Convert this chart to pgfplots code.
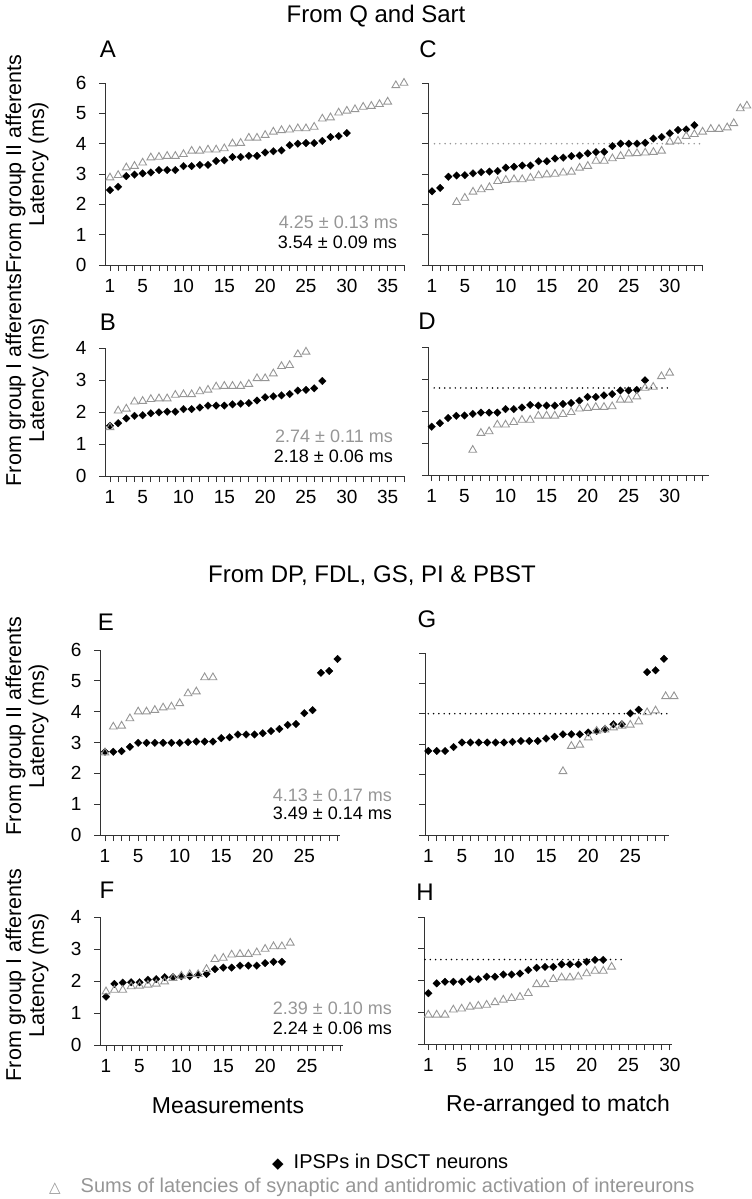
\documentclass[border=0pt]{standalone}
\usepackage{fontspec}
\setmainfont{Liberation Sans}
\newfontfamily\symfont{DejaVu Sans}
\usepackage{pgfplots}
\pgfplotsset{compat=1.18}
\definecolor{trigray}{RGB}{150,150,150}
\pgfplotsset{
  panel/.style={
    scale only axis, anchor=south west, clip=false, enlargelimits=false,
    axis x line=bottom, axis y line=left,
    axis line style={-, line width=1pt, color=black!80},
    every outer x axis line/.append style={-},
    every outer y axis line/.append style={-},
    tick align=outside,
    major tick length=6pt, minor tick length=6pt,
    tick style={line width=0.9pt, black!80},
    ymin=0,
    xtick={1,5,10,15,20,25,30,35},
    minor xtick={1,...,40},
    ytick={0,1,2,3,4,5,6},
    tick label style={font=\fontsize{19}{21}\selectfont},
    xticklabel style={yshift=-5pt},
    yticklabel style={xshift=-9pt},
    /pgf/number format/assume math mode=true,
  },
  right/.style={yticklabels={}},
  dia/.style={only marks, mark=square*, mark size=2.7pt, mark options={rotate=45, fill=black, draw=black, line width=0.2pt}},
  tri/.style={only marks, mark=triangle, mark size=4.5pt, mark options={draw=trigray, line width=0.9pt, fill=none}},
  dotline/.style={no marks, line width=1.7pt, line cap=round, dash pattern=on 0pt off 5.3pt},
}
\newcommand\tk{\fontsize{18}{20}\selectfont}
\newcommand\lb{\fontsize{21.5}{23}\selectfont}
\newcommand\ttl{\fontsize{24}{26}\selectfont}
\begin{document}
\begin{tikzpicture}
% ---------- A ----------
\begin{axis}[panel, at={(105pt,-265pt)}, width=299pt, height=182pt, xmin=0.39, xmax=37, ymax=6]
\addplot[dia] coordinates {(1,2.47)(2,2.58)(3,2.93)(4,2.98)(5,3.02)(6,3.05)(7,3.13)(8,3.13)(9,3.13)(10,3.26)(11,3.26)(12,3.3)(13,3.3)(14,3.43)(15,3.45)(16,3.56)(17,3.56)(18,3.6)(19,3.6)(20,3.71)(21,3.75)(22,3.78)(23,3.95)(24,4.0)(25,4.02)(26,4.02)(27,4.09)(28,4.22)(29,4.25)(30,4.35)};
\addplot[tri] coordinates {(1,2.88)(2,2.96)(3,3.21)(4,3.26)(5,3.37)(6,3.54)(7,3.56)(8,3.59)(9,3.59)(10,3.65)(11,3.76)(12,3.76)(13,3.8)(14,3.8)(15,3.84)(16,4.0)(17,4.02)(18,4.19)(19,4.19)(20,4.28)(21,4.39)(22,4.44)(23,4.46)(24,4.5)(25,4.5)(26,4.55)(27,4.82)(28,4.86)(29,5.02)(30,5.08)(31,5.13)(32,5.21)(33,5.24)(34,5.3)(35,5.38)(36,5.92)(37,6.0)};
\end{axis}
% ---------- B ----------
\begin{axis}[panel, at={(105pt,-476pt)}, width=299pt, height=128pt, xmin=0.39, xmax=37, ymax=4]
\addplot[dia] coordinates {(1,1.57)(2,1.65)(3,1.8)(4,1.88)(5,1.9)(6,1.96)(7,1.99)(8,2.01)(9,2.01)(10,2.09)(11,2.09)(12,2.14)(13,2.2)(14,2.2)(15,2.2)(16,2.24)(17,2.26)(18,2.28)(19,2.36)(20,2.46)(21,2.49)(22,2.52)(23,2.56)(24,2.67)(25,2.69)(26,2.74)(27,2.97)};
\addplot[tri] coordinates {(1,1.52)(2,2.04)(3,2.1)(4,2.32)(5,2.34)(6,2.4)(7,2.42)(8,2.42)(9,2.53)(10,2.55)(11,2.55)(12,2.64)(13,2.69)(14,2.79)(15,2.81)(16,2.81)(17,2.81)(18,2.87)(19,3.05)(20,3.05)(21,3.2)(22,3.43)(23,3.46)(24,3.8)(25,3.88)};
\end{axis}
% ---------- C ----------
\begin{axis}[panel, right, at={(428pt,-265pt)}, width=275pt, height=182pt, xmin=0.51, xmax=34.05, ymax=6]
\addplot[dotline, color=trigray] coordinates {(1.3,4.0)(34,4.0)};
\addplot[dia] coordinates {(1,2.43)(2,2.54)(3,2.91)(4,2.95)(5,2.96)(6,3.02)(7,3.06)(8,3.08)(9,3.1)(10,3.21)(11,3.24)(12,3.28)(13,3.28)(14,3.42)(15,3.42)(16,3.51)(17,3.54)(18,3.59)(19,3.61)(20,3.68)(21,3.72)(22,3.73)(23,3.92)(24,4.0)(25,4.0)(26,4.0)(27,4.03)(28,4.17)(29,4.22)(30,4.34)(31,4.45)(32,4.47)(33,4.61)};
\addplot[tri] coordinates {(4,2.07)(5,2.21)(6,2.41)(7,2.49)(8,2.56)(9,2.76)(10,2.8)(11,2.82)(12,2.82)(13,2.87)(14,2.95)(15,2.98)(16,3.0)(17,3.04)(18,3.07)(19,3.2)(20,3.26)(21,3.43)(22,3.43)(23,3.51)(24,3.59)(25,3.67)(26,3.68)(27,3.7)(28,3.72)(29,3.76)(30,4.06)(31,4.09)(32,4.25)(33,4.31)(34,4.39)(35,4.48)(36,4.48)(37,4.53)(37.8,4.67)(38.6,5.16)(39.4,5.25)};
\end{axis}
% ---------- D ----------
\begin{axis}[panel, right, at={(428pt,-475pt)}, width=281pt, height=128pt, xmin=0.55, xmax=34.8, ymax=4]
\addplot[dotline, black] coordinates {(1.3,2.72)(30,2.72)};
\addplot[dia] coordinates {(1,1.51)(2,1.62)(3,1.78)(4,1.85)(5,1.86)(6,1.91)(7,1.95)(8,1.95)(9,1.95)(10,2.06)(11,2.06)(12,2.11)(13,2.19)(14,2.17)(15,2.17)(16,2.17)(17,2.22)(18,2.25)(19,2.32)(20,2.44)(21,2.44)(22,2.49)(23,2.53)(24,2.64)(25,2.64)(26,2.66)(27,2.96)};
\addplot[tri] coordinates {(6,0.78)(7,1.31)(8,1.36)(9,1.57)(10,1.57)(11,1.65)(12,1.72)(13,1.72)(14,1.85)(15,1.85)(16,1.85)(17,1.9)(18,1.96)(19,2.07)(20,2.09)(21,2.12)(22,2.12)(23,2.14)(24,2.35)(25,2.35)(26,2.45)(27,2.72)(28,2.75)(29,3.08)(30,3.19)};
\end{axis}
% ---------- E ----------
\begin{axis}[panel, at={(100pt,-835pt)}, width=240pt, height=185pt, xmin=0.4, xmax=29.3, ymax=6]
\addplot[dia] coordinates {(1,2.70)(2,2.70)(3,2.72)(4,2.86)(5,2.99)(6,2.99)(7,2.99)(8,2.99)(9,2.99)(10,2.99)(11,3.01)(12,3.03)(13,3.03)(14,3.03)(15,3.14)(16,3.17)(17,3.26)(18,3.26)(19,3.26)(20,3.30)(21,3.37)(22,3.44)(23,3.57)(24,3.60)(25,3.95)(26,4.05)(27,5.26)(28,5.32)(29,5.71)};
\addplot[tri] coordinates {(1,2.67)(2,3.51)(3,3.54)(4,3.78)(5,4.0)(6,4.0)(7,4.05)(8,4.13)(9,4.16)(10,4.27)(11,4.59)(12,4.65)(13,5.11)(14,5.11)};
\end{axis}
% ---------- F ----------
\begin{axis}[panel, at={(100pt,-1045pt)}, width=243pt, height=128pt, xmin=0.28, xmax=29.3, ymax=4]
\addplot[dia] coordinates {(1,1.51)(2,1.91)(3,1.95)(4,1.96)(5,1.96)(6,2.04)(7,2.06)(8,2.12)(9,2.12)(10,2.15)(11,2.15)(12,2.2)(13,2.22)(14,2.37)(15,2.42)(16,2.42)(17,2.48)(18,2.48)(19,2.48)(20,2.56)(21,2.6)(22,2.6)};
\addplot[tri] coordinates {(1,1.67)(2,1.72)(3,1.72)(4,1.83)(5,1.85)(6,1.88)(7,1.91)(8,1.98)(9,2.09)(10,2.16)(11,2.21)(12,2.21)(13,2.37)(14,2.68)(15,2.72)(16,2.82)(17,2.84)(18,2.84)(19,2.89)(20,3.0)(21,3.08)(22,3.08)(23,3.19)};
\end{axis}
% ---------- G ----------
\begin{axis}[panel, right, at={(425pt,-835pt)}, width=244pt, height=182pt, xmin=0.61, xmax=29.6, ymax=6]
\addplot[dotline, black] coordinates {(1,4.0)(29.7,4.0)};
\addplot[dia] coordinates {(1,2.77)(2,2.77)(3,2.77)(4,2.9)(5,3.05)(6,3.05)(7,3.05)(8,3.05)(9,3.05)(10,3.05)(11,3.07)(12,3.1)(13,3.1)(14,3.1)(15,3.18)(16,3.24)(17,3.32)(18,3.32)(19,3.32)(20,3.38)(21,3.43)(22,3.49)(23,3.65)(24,3.65)(25,4.01)(26,4.13)(27,5.37)(28,5.43)(29,5.81)};
\addplot[tri] coordinates {(17,2.1)(18,2.93)(19,2.97)(20,3.21)(21,3.43)(22,3.47)(23,3.54)(24,3.6)(25,3.63)(26,3.74)(27,4.04)(28,4.1)(29.2,4.57)(30.2,4.57)};
\end{axis}
% ---------- H ----------
\begin{axis}[panel, right, at={(424pt,-1044pt)}, width=248pt, height=127pt, xmin=0.48, xmax=30.25, ymax=4]
\addplot[dotline, black] coordinates {(0.6,2.66)(24.6,2.66)};
\addplot[dia] coordinates {(1,1.6)(2,1.91)(3,1.96)(4,1.96)(5,1.96)(6,2.04)(7,2.04)(8,2.12)(9,2.12)(10,2.19)(11,2.19)(12,2.22)(13,2.33)(14,2.4)(15,2.43)(16,2.43)(17,2.51)(18,2.51)(19,2.51)(20,2.59)(21,2.65)(22,2.65)};
\addplot[tri] coordinates {(1,0.92)(2,0.92)(3,0.92)(4,1.08)(5,1.11)(6,1.17)(7,1.2)(8,1.23)(9,1.31)(10,1.39)(11,1.44)(12,1.48)(13,1.6)(14,1.88)(15,1.88)(16,2.04)(17,2.09)(18,2.09)(19,2.12)(20,2.22)(21,2.3)(22,2.3)(23,2.43)};
\end{axis}
% ---------- texts ----------
\node[font=\ttl, inner sep=0] at (376pt,-16pt) {From Q and Sart};
\node[font=\ttl, inner sep=0] at (372pt,-576pt) {From DP, FDL, GS, PI \& PBST};
\foreach \l/\x/\y in {A/108/49, B/108/322, C/428/49, D/427/321, E/106/622, F/107/890, G/427/619, H/425/892}
  \node[font=\ttl, inner sep=0] at (\x pt,-\y pt) {\l};
\foreach \y/\t in {164/II, 380/I, 726/II, 975/I}
  \node[rotate=90, align=center, font=\lb, inner sep=0] at (27pt,-\y pt) {From group \t\ afferents\\Latency (ms)};
\node[font=\tk, text=trigray, anchor=east, inner sep=0] at (398pt,-222.7pt) {4.25 ± 0.13 ms};
\node[font=\tk, anchor=east, inner sep=0] at (397pt,-242.7pt) {3.54 ± 0.09 ms};
\node[font=\tk, text=trigray, anchor=east, inner sep=0] at (393pt,-436.7pt) {2.74 ± 0.11 ms};
\node[font=\tk, anchor=east, inner sep=0] at (393pt,-456pt) {2.18 ± 0.06 ms};
\node[font=\tk, text=trigray, anchor=east, inner sep=0] at (392pt,-795pt) {4.13 ± 0.17 ms};
\node[font=\tk, anchor=east, inner sep=0] at (392pt,-813.5pt) {3.49 ± 0.14 ms};
\node[font=\tk, text=trigray, anchor=east, inner sep=0] at (392pt,-1008pt) {2.39 ± 0.10 ms};
\node[font=\tk, anchor=east, inner sep=0] at (392pt,-1028pt) {2.24 ± 0.06 ms};
\node[font=\fontsize{23}{25}\selectfont, inner sep=0] at (228pt,-1106pt) {Measurements};
\node[font=\fontsize{23}{25}\selectfont, inner sep=0] at (558pt,-1106pt) {Re-arranged to match};
\node[font=\fontsize{20}{22}\selectfont, inner sep=0, anchor=west] at (272pt,-1162pt) {{\symfont\fontsize{15}{17}\selectfont ◆}\enspace IPSPs in DSCT neurons};
\node[font=\fontsize{20}{22}\selectfont, text=trigray, inner sep=0, anchor=west] at (49pt,-1187pt) {{\symfont\fontsize{15}{17}\selectfont △}\quad Sums of latencies of synaptic and antidromic activation of intereurons};
\pgfresetboundingbox
\path[use as bounding box] (0pt,0pt) rectangle (752pt,-1199pt);
\end{tikzpicture}
\end{document}
